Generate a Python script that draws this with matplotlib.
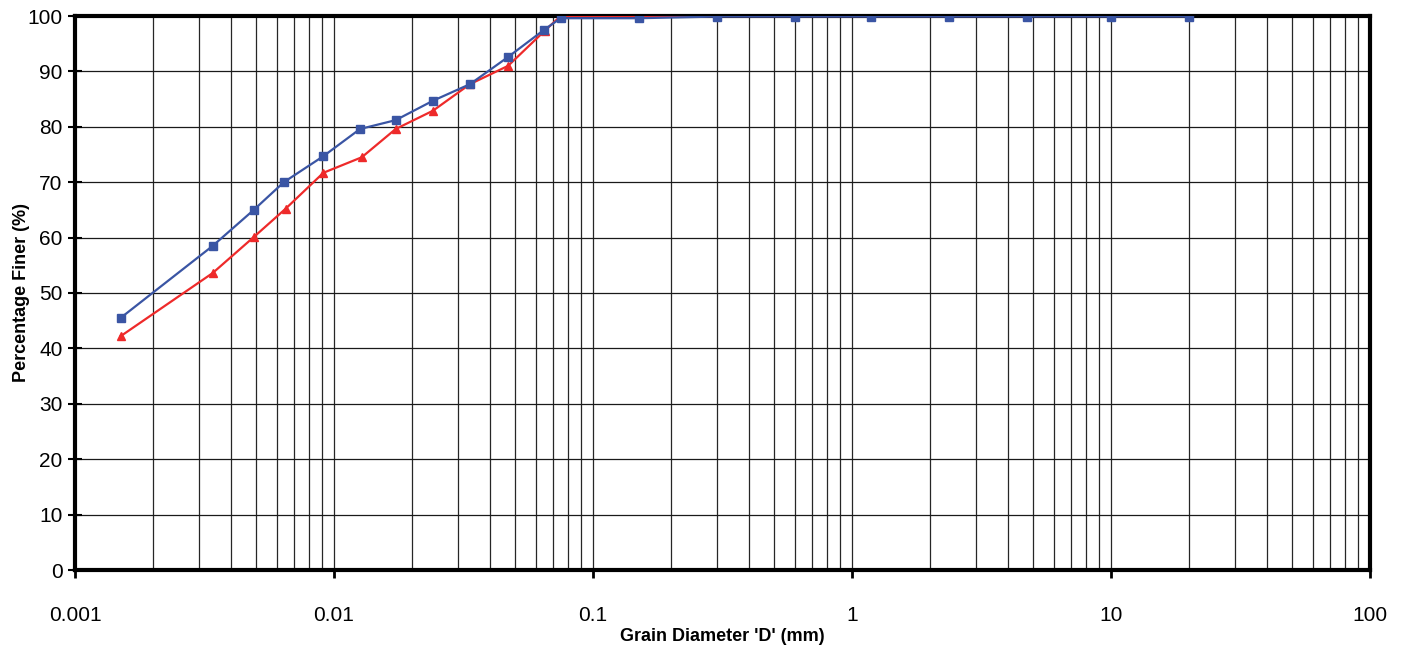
import matplotlib.pyplot as plt
import numpy as np
from matplotlib.ticker import LogLocator, FixedLocator, NullFormatter

plt.rcParams['font.family'] = ['Liberation Sans Narrow', 'Liberation Sans', 'DejaVu Sans']

# grain size (mm) and percentage finer
d_blue = [0.0015, 0.0034, 0.0049, 0.0064, 0.0091, 0.0126, 0.0173, 0.0241, 0.0335,
          0.047, 0.0647, 0.075, 0.15, 0.3, 0.6, 1.18, 2.36, 4.75, 10, 20]
p_blue = [45.5, 58.5, 65.0, 70.0, 74.7, 79.6, 81.2, 84.7, 87.7,
          92.6, 97.5, 99.6, 99.6, 99.9, 99.9, 99.9, 99.9, 99.9, 99.9, 99.9]

d_red = [0.0015, 0.0034, 0.0049, 0.0065, 0.0091, 0.0128, 0.0173, 0.0241, 0.0335,
         0.047, 0.065, 0.075, 0.15, 0.3, 0.6, 1.18, 2.36, 4.75, 10, 20]
p_red = [42.2, 53.6, 60.1, 65.2, 71.7, 74.5, 79.6, 82.9, 87.7,
         91.0, 97.3, 100, 100, 100, 100, 100, 100, 100, 100, 100]

xticklabels = ['0.001', '0.01', '0.1', '1', '10', '100']

fig = plt.figure(figsize=(14.09, 6.46), dpi=100)
ax = fig.add_axes([75/1409, 76/646, 1295/1409, 554/646])

ax.plot(d_red, p_red, '-', color='#ee2a2a', lw=1.6, marker='^', ms=6, zorder=3)
ax.plot(d_blue, p_blue, '-', color='#3a55a4', lw=1.6, marker='s', ms=5.5, zorder=4)

ax.set_xscale('log')
ax.set_xlim(0.001, 100)
ax.set_ylim(0, 100)
ax.set_yticks(np.arange(0, 101, 10))
ax.xaxis.set_major_locator(FixedLocator([0.001, 0.01, 0.1, 1, 10, 100]))
ax.set_xticklabels(xticklabels)
ax.xaxis.set_minor_locator(LogLocator(base=10, subs=np.arange(2, 10)))
ax.xaxis.set_minor_formatter(NullFormatter())

ax.grid(True, which='both', axis='x', color='0.15', lw=0.9)
ax.grid(True, which='major', axis='y', color='0.1', lw=0.9)
ax.set_axisbelow(True)

for s in ax.spines.values():
    s.set_linewidth(3)
ax.tick_params(axis='x', which='major', direction='out', length=6, width=2, labelsize=15, pad=20)
ax.tick_params(axis='x', which='minor', length=0)
ax.tick_params(axis='y', direction='inout', length=10, width=1.5, labelsize=15, pad=4)

ax.set_xlabel("Grain Diameter 'D' (mm)", fontsize=13, fontweight='bold', labelpad=2)
ax.set_ylabel('Percentage Finer (%)', fontsize=13, fontweight='bold', labelpad=-2)

fig.savefig('out.png', dpi=100)
